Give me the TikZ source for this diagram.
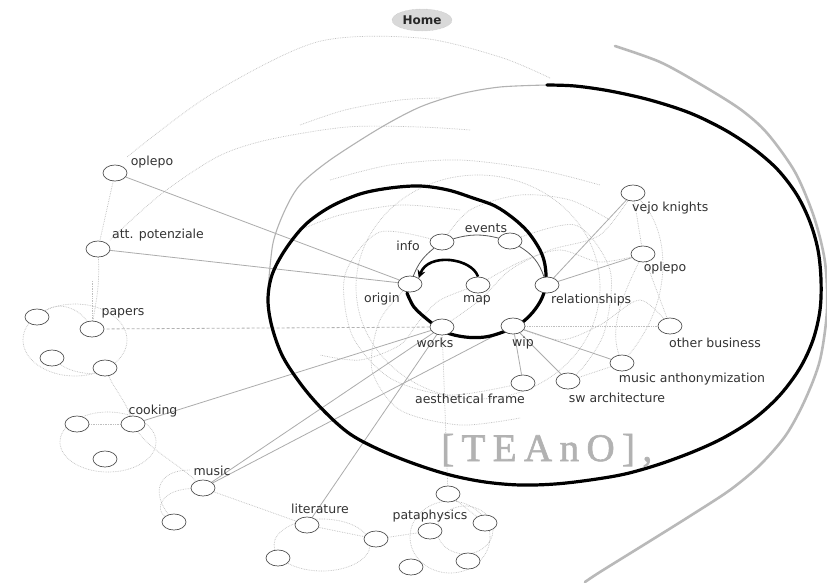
\documentclass[tikz,border=0pt]{standalone}
\usepackage{fontspec}
\setmainfont{DejaVu Sans}
\newfontfamily\teano[LetterSpace=19,FakeBold=1.5]{Liberation Serif}
\usetikzlibrary{shapes.geometric,arrows.meta}
\pgfdeclarelayer{paper}
\pgfdeclarelayer{bg}
\pgfsetlayers{paper,bg,main}
\tikzset{
  nd/.style={ellipse,draw=gray!65!black,fill=white,line width=0.7pt,minimum width=24pt,minimum height=16pt,inner sep=0pt},
  lbl/.style={font=\fontsize{12.5}{14}\selectfont,text=black!80,inner sep=0pt},
  conn/.style={draw=gray!65,line width=0.8pt},
  dconn/.style={draw=gray!60,line width=0.8pt,densely dashed},
  dotc/.style={draw=gray!50,line width=0.7pt,densely dotted},
  thinarc/.style={draw=gray!70!black,line width=0.8pt},
  spiralline/.style={draw=black,line width=3.2pt,line cap=round},
  greyspiral/.style={draw=gray!60,line width=1.1pt},
  outerline/.style={draw=gray!55,line width=2.6pt,line cap=round},
}
\begin{document}
\begin{tikzpicture}[x=1pt,y=-1pt]
\useasboundingbox (0,0) rectangle (827,582);
\begin{pgfonlayer}{paper}
\fill[white] (0,0) rectangle (827,582);
\end{pgfonlayer}

% ---------- Home ----------
\node[ellipse,draw=gray!50,densely dotted,fill=gray!30,minimum width=60pt,minimum height=22pt,inner sep=0pt,font=\bfseries\fontsize{12}{14}\selectfont,text=black!85] (home) at (422,20) {Home};

% ---------- inner ring ----------
\node[nd] (info) at (442,242) {};
\node[lbl] (linfo) at (408,246) {info};
\node[nd] (events) at (510,241) {};
\node[lbl] (levents) at (486,228) {events};
\node[nd] (origin) at (410,284) {};
\node[lbl] (lorigin) at (382,299) {origin};
\node[nd] (map) at (478,285) {};
\node[lbl] (lmap) at (477,300) {map};
\node[nd] (rel) at (547,285) {};
\node[lbl,anchor=west] (lrel) at (551,300) {relationships};
\node[nd] (works) at (442,327) {};
\node[lbl] (lworks) at (435,343) {works};
\node[nd] (wip) at (513,326) {};
\node[lbl] (lwip) at (523,343) {wip};

% ---------- outer nodes ----------
\node[nd] (oplepoL) at (115,173) {};
\node[lbl] (loplepoL) at (152,162) {oplepo};
\node[nd] (att) at (98,249) {};
\node[lbl] (latt) at (158,235) {att. potenziale};

\node[nd] (pap1) at (37,317) {};
\node[nd] (pap2) at (92,329) {};
\node[nd] (pap3) at (52,358) {};
\node[nd] (pap4) at (105,368) {};
\node[lbl] (lpap) at (123,313) {papers};

\node[nd] (cook1) at (133,424) {};
\node[nd] (cook2) at (77,424) {};
\node[nd] (cook3) at (105,459) {};
\node[lbl] (lcook) at (153,411) {cooking};

\node[nd] (mus1) at (203,488) {};
\node[nd] (mus2) at (174,522) {};
\node[lbl] (lmus) at (212,471) {music};

\node[nd] (lit1) at (307,525) {};
\node[nd] (lit2) at (278,558) {};
\node[nd] (lit3) at (376,539) {};
\node[lbl] (llit) at (320,509) {literature};

\node[nd] (pat1) at (448,494) {};
\node[nd] (pat2) at (430,531) {};
\node[nd] (pat3) at (485,523) {};
\node[nd] (pat4) at (468,561) {};
\node[nd] (pat5) at (411,567) {};
\node[lbl] (lpat) at (430,516) {pataphysics};

\node[nd] (vejo) at (633,193) {};
\node[lbl,anchor=west] (lvejo) at (632,208) {vejo knights};
\node[nd] (oplepoR) at (643,254) {};
\node[lbl] (loplepoR) at (665,268) {oplepo};
\node[nd] (other) at (670,326) {};
\node[lbl] (lother) at (715,343) {other business};
\node[nd] (musan) at (622,363) {};
\node[lbl] (lmusan) at (692,379) {music anthonymization};
\node[nd] (aes) at (523,383) {};
\node[lbl] (laes) at (470,399) {aesthetical frame};
\node[nd] (sw) at (568,381) {};
\node[lbl] (lsw) at (617,398) {sw architecture};

\node[anchor=base west,inner sep=0pt,text=gray!60,font=\teano\fontsize{39}{40}\selectfont] (teano) at (441,461) {[TEAnO],};

\begin{pgfonlayer}{bg}
% ---------- dotted background curves ----------
\draw[dotc] plot[smooth] coordinates {(550,78) (500,57) (420,38) (317,42) (210,95) (127,157)};
\draw[dotc] (oplepoL) -- (att);
\draw[dotc] (att) .. controls (100,290) and (95,305) .. (pap2);
\draw[dotc] plot[smooth] coordinates {(470,130) (420,127) (347,127) (267,140) (217,157) (160,195) (110,240)};
\draw[dotc] plot[smooth] coordinates {(440,98) (400,100) (345,110) (300,125)};
\draw[dotc] (478,287) ellipse (122 and 112);
\draw[dotc] plot[smooth] coordinates {(info) (380,232) (345,275) (352,335) (390,378) (450,395) (aes)};
\draw[dotc] plot[smooth] coordinates {(events) (575,225) (610,270) (605,330) (585,365) (sw)};
\draw[dotc] plot[smooth] coordinates {(map) (520,262) (560,250) (600,262) (oplepoR)};
\draw[dotc] plot[smooth] coordinates {(origin) (380,320) (372,370) (400,410) (460,425) (520,418)};
\draw[dotc] plot[smooth] coordinates {(works) (480,300) (510,270) (550,250) (600,235) (vejo)};
\draw[dotc] plot[smooth] coordinates {(map) (440,300) (420,320) (400,345) (360,360) (320,355)};
\draw[dotc] plot[smooth] coordinates {(wip) (560,340) (600,325) (640,300) (other)};
\draw[dotc] plot[smooth] coordinates {(info) (470,210) (520,195) (570,200) (610,220)};
\draw[dotc] plot[smooth] coordinates {(300,230) (340,215) (400,205) (460,210)};
\draw[dotc] plot[smooth] coordinates {(330,180) (390,165) (460,160) (540,170) (600,185)};
\draw[dotc] (vejo) -- (oplepoR) -- (other);
\draw[dotc] (vejo) .. controls (670,230) and (675,300) .. (musan);
\draw[dotc] (oplepoR) .. controls (620,300) and (610,330) .. (musan);
\draw[dotc] (musan) -- (sw);
% papers cluster
\draw[dotc] (75,340) ellipse (52 and 36);
\draw[dotc] (pap1) .. controls (60,300) and (80,310) .. (pap2);
\draw[dotc] (pap3) .. controls (70,372) and (90,375) .. (pap4);
\draw[dotc] (pap4) .. controls (115,390) and (125,400) .. (cook1);
\draw[dotc] (pap2) -- (92,280);
% cooking cluster
\draw[dotc] (108,442) ellipse (48 and 30);
\draw[dotc] (cook2) -- (cook1);
\draw[dotc] (cook1) .. controls (150,450) and (180,465) .. (mus1);
% music cluster
\draw[dotc] (mus1) .. controls (160,490) and (155,510) .. (mus2);
\draw[dotc] (mus1) -- (lit1);
\draw[dotc] (mus2) .. controls (150,490) and (160,470) .. (190,470);
% literature cluster
\draw[dotc] (322,545) ellipse (48 and 26);
\draw[dotc] (lit1) -- (lit3);
% pataphysics cluster
\draw[dotc] (450,537) ellipse (40 and 36);
\draw[dotc] (465,530) ellipse (28 and 24);
\draw[dotc] (lit3) -- (pat2);
\draw[dotc] (pat1) -- (pat3);

% ---------- grey outer spiral lines ----------
\draw[greyspiral] plot[smooth] coordinates {(547,85) (500,87) (460,94) (420,107) (380,128) (330,160) (300,185) (285,210) (273,243) (268,290)};
\draw[outerline] plot[smooth] coordinates {(615,46) (660,62) (700,84) (740,109) (767,133) (795,172) (814,217) (825,262) (827,310) (820,360) (805,400) (786,435) (760,465) (730,490) (690,516) (650,541) (600,572) (585,582)};

% ---------- connectors ----------
\draw[conn] (origin) -- (oplepoL);
\draw[conn] (origin) -- (att);
\draw[dconn] (works) -- (pap2);
\draw[conn] (works) -- (cook1);
\draw[conn] (works) -- (mus1);
\draw[conn] (wip) -- (mus1);
\draw[conn] (works) -- (lit1);
\draw[dotc] (works) -- (pat1);
\draw[conn] (wip) -- (aes);
\draw[conn] (wip) -- (sw);
\draw[conn] (wip) -- (musan);
\draw[dotc] (wip) -- (other);
\draw[conn] (rel) -- (vejo);
\draw[conn] (rel) -- (oplepoR);

% ---------- inner thin arcs ----------
\draw[thinarc] (info) to[bend left=15] (events);
\draw[thinarc] (events) to[bend left=20] (rel);
\draw[thinarc] (info) to[bend right=15] (origin);

% ---------- thick spiral ----------
\draw[draw=black,line width=2.6pt,-{Stealth[length=8pt,width=8pt]}] (map.north) .. controls (472,258) and (428,252) .. (origin.north east);
\draw[spiralline] plot[smooth,tension=0.55] coordinates {(407,293) (414,307) (428,320) (445,332) (465,337) (485,337) (503,332) (520,324) (533,312) (542,298) (546,283) (545,265) (540,250) (528,232) (513,218) (495,206) (473,198) (448,190) (420,186) (390,188) (360,194) (330,207) (305,225) (285,250) (272,275) (268,300) (272,327) (283,357) (303,387) (325,412) (350,434) (380,450) (415,464) (450,475) (485,482) (520,485) (555,484) (590,480) (625,474) (660,464) (695,451) (725,437) (755,418) (780,395) (800,368) (813,340) (820,310) (821,280) (818,250) (810,222) (797,195) (778,170) (754,149) (725,130) (690,113) (650,100) (610,91) (575,86) (547,85)};
\end{pgfonlayer}
\end{tikzpicture}
\end{document}
